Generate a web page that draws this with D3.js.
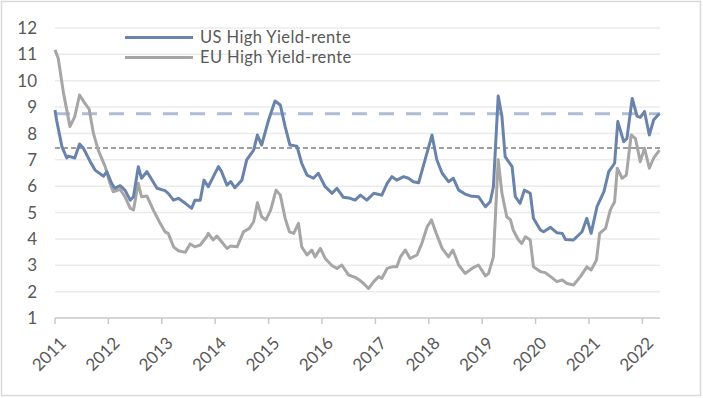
<!DOCTYPE html>
<html>
<head>
<meta charset="utf-8">
<script src="https://cdn.jsdelivr.net/npm/d3@7"></script>
<style>
  body { margin: 0; background: #fff; }
  svg { display: block; font-family: Lato, "Open Sans", sans-serif; }
</style>
</head>
<body>
<div id="chart"></div>
<script>
// Series (time as decimal year)
const usDates = [2011.00, 2011.03, 2011.13, 2011.22, 2011.25, 2011.37, 2011.46, 2011.53, 2011.66, 2011.75,
  2011.91, 2011.97, 2012.06, 2012.12, 2012.22, 2012.31, 2012.41, 2012.47, 2012.56, 2012.62,
  2012.72, 2012.78, 2012.91, 2013.06, 2013.12, 2013.22, 2013.31, 2013.44, 2013.56, 2013.62,
  2013.72, 2013.79, 2013.87, 2014.06, 2014.12, 2014.22, 2014.29, 2014.37, 2014.50, 2014.59,
  2014.72, 2014.79, 2014.87, 2015.00, 2015.12, 2015.22, 2015.31, 2015.40, 2015.53, 2015.62,
  2015.72, 2015.84, 2015.93, 2016.06, 2016.19, 2016.28, 2016.40, 2016.53, 2016.62, 2016.72,
  2016.84, 2016.97, 2017.12, 2017.22, 2017.31, 2017.40, 2017.53, 2017.62, 2017.71, 2017.81,
  2017.93, 2018.06, 2018.15, 2018.25, 2018.37, 2018.46, 2018.56, 2018.68, 2018.78, 2018.93,
  2019.06, 2019.15, 2019.21, 2019.30, 2019.37, 2019.43, 2019.56, 2019.62, 2019.71, 2019.79,
  2019.90, 2019.96, 2020.09, 2020.15, 2020.28, 2020.40, 2020.50, 2020.56, 2020.71, 2020.87,
  2020.96, 2021.04, 2021.15, 2021.28, 2021.37, 2021.48, 2021.54, 2021.65, 2021.71, 2021.81,
  2021.90, 2021.96, 2022.04, 2022.13, 2022.21, 2022.32];
const usValues = [8.89, 8.50, 7.50, 7.07, 7.14, 7.07, 7.60, 7.45, 6.93, 6.61,
  6.38, 6.55, 6.11, 5.92, 6.02, 5.85, 5.47, 5.60, 6.74, 6.30,
  6.55, 6.36, 5.92, 5.83, 5.73, 5.47, 5.54, 5.35, 5.16, 5.47,
  5.47, 6.23, 5.98, 6.74, 6.55, 6.04, 6.17, 5.94, 6.23, 7.00,
  7.37, 7.94, 7.56, 8.51, 9.23, 9.08, 8.26, 7.56, 7.52, 6.87,
  6.42, 6.30, 6.49, 5.98, 5.73, 5.92, 5.58, 5.54, 5.47, 5.66,
  5.47, 5.73, 5.66, 6.11, 6.36, 6.23, 6.36, 6.30, 6.17, 6.13,
  7.00, 7.94, 7.00, 6.49, 6.17, 6.30, 5.85, 5.70, 5.63, 5.60,
  5.22, 5.41, 5.98, 9.42, 8.64, 7.12, 6.74, 5.60, 5.35, 5.85,
  5.73, 4.78, 4.34, 4.27, 4.44, 4.23, 4.21, 3.98, 3.96, 4.27,
  4.78, 4.21, 5.22, 5.79, 6.55, 6.87, 8.45, 7.69, 7.81, 9.33,
  8.66, 8.61, 8.83, 7.94, 8.51, 8.76];

const euDates = [2011.00, 2011.06, 2011.16, 2011.28, 2011.37, 2011.46, 2011.56, 2011.64, 2011.72, 2011.81,
  2011.94, 2012.03, 2012.09, 2012.22, 2012.31, 2012.41, 2012.47, 2012.56, 2012.62, 2012.72,
  2012.84, 2012.97, 2013.06, 2013.12, 2013.22, 2013.31, 2013.44, 2013.53, 2013.62, 2013.72,
  2013.84, 2013.87, 2013.96, 2014.03, 2014.12, 2014.22, 2014.29, 2014.41, 2014.53, 2014.64,
  2014.72, 2014.79, 2014.87, 2014.95, 2015.04, 2015.14, 2015.22, 2015.31, 2015.39, 2015.47,
  2015.56, 2015.62, 2015.72, 2015.81, 2015.87, 2015.97, 2016.06, 2016.19, 2016.28, 2016.37,
  2016.50, 2016.62, 2016.70, 2016.78, 2016.87, 2016.97, 2017.06, 2017.12, 2017.22, 2017.31,
  2017.40, 2017.47, 2017.56, 2017.65, 2017.78, 2017.87, 2017.97, 2018.05, 2018.14, 2018.25,
  2018.37, 2018.45, 2018.56, 2018.68, 2018.81, 2018.93, 2019.06, 2019.12, 2019.21, 2019.30,
  2019.37, 2019.46, 2019.53, 2019.58, 2019.68, 2019.74, 2019.81, 2019.90, 2019.96, 2020.09,
  2020.18, 2020.28, 2020.40, 2020.50, 2020.59, 2020.71, 2020.84, 2020.96, 2021.04, 2021.14,
  2021.20, 2021.31, 2021.40, 2021.48, 2021.53, 2021.62, 2021.70, 2021.79, 2021.87, 2021.96,
  2022.04, 2022.13, 2022.21, 2022.32];
const euValues = [11.17, 10.85, 9.52, 8.26, 8.64, 9.46, 9.14, 8.92, 8.00, 7.37,
  6.74, 6.11, 5.79, 5.88, 5.60, 5.16, 5.10, 6.11, 5.60, 5.63,
  5.10, 4.59, 4.27, 4.21, 3.70, 3.55, 3.49, 3.81, 3.70, 3.77,
  4.08, 4.21, 3.96, 4.11, 3.89, 3.64, 3.73, 3.70, 4.27, 4.40,
  4.65, 5.37, 4.84, 4.72, 5.10, 5.85, 5.66, 4.78, 4.27, 4.21,
  4.59, 3.70, 3.39, 3.58, 3.32, 3.64, 3.26, 2.98, 2.88, 3.01,
  2.63, 2.54, 2.44, 2.31, 2.12, 2.38, 2.57, 2.50, 2.88, 2.94,
  2.94, 3.32, 3.58, 3.26, 3.39, 3.83, 4.46, 4.72, 4.21, 3.64,
  3.32, 3.58, 3.01, 2.69, 2.88, 3.01, 2.60, 2.69, 3.32, 7.00,
  5.73, 4.84, 4.72, 4.34, 3.96, 3.83, 4.08, 3.96, 2.94, 2.76,
  2.72, 2.57, 2.38, 2.44, 2.31, 2.25, 2.57, 2.94, 2.82, 3.20,
  4.21, 4.40, 5.10, 5.41, 6.68, 6.30, 6.42, 7.94, 7.81, 6.93,
  7.44, 6.68, 7.06, 7.37];

// Horizontal reference levels (dashed)
const usLevel = 8.75;
const euLevel = 7.45;

const seriesNames = ['US High Yield-rente', 'EU High Yield-rente'];
const yearTicks = [2011, 2012, 2013, 2014, 2015, 2016, 2017, 2018, 2019, 2020, 2021, 2022];
const yTicks = [1, 2, 3, 4, 5, 6, 7, 8, 9, 10, 11, 12];

const W = 703, H = 398;
const usColor = '#6a83aa', euColor = '#a6a6a6', textColor = '#595959';

const svg = d3.select('#chart').append('svg')
  .attr('width', W)
  .attr('height', H);

// Outer frame
svg.append('rect')
  .attr('x', 1.5).attr('y', 1.5)
  .attr('width', W - 4).attr('height', H - 4)
  .attr('fill', '#fff')
  .attr('stroke', '#d9d9d9')
  .attr('stroke-width', 1.5);

const x = d3.scaleLinear().domain([2011, 2022.33]).range([55, 660]);
const y = d3.scaleLinear().domain([1, 12]).range([318, 28]);

// Gridlines
svg.append('g')
  .selectAll('line')
  .data(yTicks.filter(d => d > 1))
  .enter()
  .append('line')
  .attr('x1', x(2011)).attr('x2', x.range()[1])
  .attr('y1', d => y(d)).attr('y2', d => y(d))
  .attr('stroke', '#ebebeb')
  .attr('stroke-width', 1.5);

// y labels
svg.append('g')
  .selectAll('text')
  .data(yTicks)
  .enter()
  .append('text')
  .attr('x', 37)
  .attr('y', d => y(d))
  .attr('dy', '0.36em')
  .attr('text-anchor', 'end')
  .style('font-size', '17px')
  .style('fill', textColor)
  .text(d => d);

// x axis line + ticks
svg.append('line')
  .attr('x1', x(2011)).attr('x2', x.range()[1])
  .attr('y1', y(1)).attr('y2', y(1))
  .attr('stroke', '#c8c8c8')
  .attr('stroke-width', 1.5);

svg.append('g')
  .selectAll('line')
  .data(yearTicks)
  .enter()
  .append('line')
  .attr('x1', d => x(d)).attr('x2', d => x(d))
  .attr('y1', y(1)).attr('y2', y(1) + 6)
  .attr('stroke', '#c8c8c8')
  .attr('stroke-width', 1.5);

svg.append('g')
  .selectAll('text')
  .data(yearTicks)
  .enter()
  .append('text')
  .attr('transform', d => `translate(${x(d) + 8},${y(1) + 22}) rotate(-45)`)
  .attr('text-anchor', 'end')
  .attr('dy', '0.35em')
  .style('font-size', '17px')
  .style('fill', textColor)
  .text(d => d);

// Reference levels
svg.append('line')
  .attr('x1', x(2011)).attr('x2', x.range()[1])
  .attr('y1', y(usLevel)).attr('y2', y(usLevel))
  .attr('stroke', '#aebcd4')
  .attr('stroke-width', 3)
  .attr('stroke-dasharray', '15,12');

svg.append('line')
  .attr('x1', x(2011)).attr('x2', x.range()[1])
  .attr('y1', y(euLevel)).attr('y2', y(euLevel))
  .attr('stroke', '#808080')
  .attr('stroke-width', 1.5)
  .attr('stroke-dasharray', '5,3');

// Series lines
const line = d3.line()
  .x(d => x(d[0]))
  .y(d => y(d[1]));

svg.append('path')
  .datum(euDates.map((d, i) => [d, euValues[i]]))
  .attr('fill', 'none')
  .attr('stroke', euColor)
  .attr('stroke-width', 3)
  .attr('stroke-linejoin', 'round')
  .attr('d', line);

svg.append('path')
  .datum(usDates.map((d, i) => [d, usValues[i]]))
  .attr('fill', 'none')
  .attr('stroke', usColor)
  .attr('stroke-width', 3)
  .attr('stroke-linejoin', 'round')
  .attr('d', line);

// Legend
const legend = svg.append('g');
[usColor, euColor].forEach((c, i) => {
  const ly = 37.5 + i * 20;
  legend.append('line')
    .attr('x1', 125).attr('x2', 193)
    .attr('y1', ly).attr('y2', ly)
    .attr('stroke', c)
    .attr('stroke-width', 3);
  legend.append('text')
    .attr('x', 200)
    .attr('y', ly)
    .attr('dy', '0.36em')
    .style('font-size', '16.5px')
    .style('letter-spacing', '0.4px')
    .style('fill', textColor)
    .text(seriesNames[i]);
});
</script>
</body>
</html>
